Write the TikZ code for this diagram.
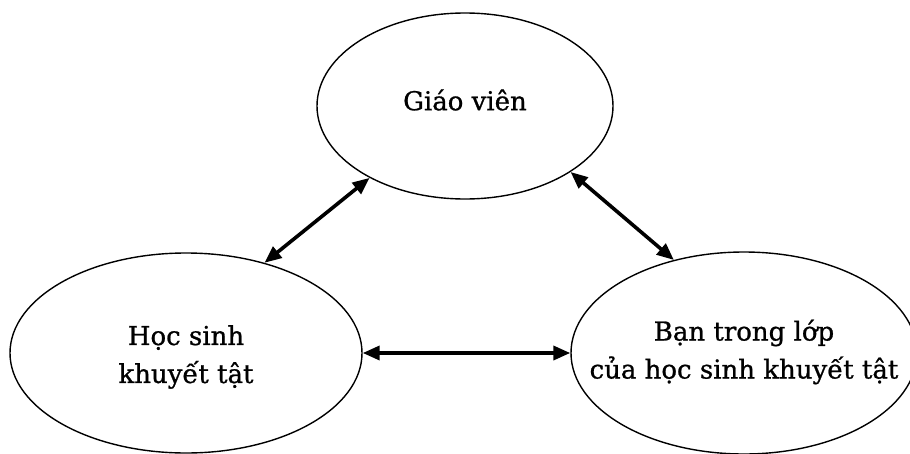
\documentclass[tikz,border=0pt]{standalone}
\usepackage{fontspec}
\setmainfont{DejaVu Serif}
\newfontfamily\chufont{DejaVu Serif}[FakeBold=0.9]
\usepackage{tikz}
\usetikzlibrary{positioning}
\usetikzlibrary{arrows.meta,shapes.geometric}

\begin{document}
\begin{tikzpicture}[x=1pt,y=-1pt,<->,>={Triangle[length=17pt,width=14pt]},node distance=247pt and 279pt,on grid,
    vong/.style={ellipse,draw,line width=1.4pt,inner sep=0pt},
    chu/.style={align=center,font=\chufont\fontsize{26pt}{38pt}\selectfont}]
      \useasboundingbox (0,0) rectangle (910,453);
      \clip (0,0) rectangle (910,453);
      \node[vong,minimum width=296pt,minimum height=186pt] (gv) at (465,106) {};
      \node[vong,minimum width=352pt,minimum height=200pt] (hs) [below left=of gv] {};
      \node[vong,minimum width=346pt,minimum height=202pt] (ban) [below right=of gv] {};
      \node[chu] (gvchu) at ([yshift=6pt]gv) {Giáo viên};
      \node[chu] (hschu) at ([yshift=-4pt]hs) {Học sinh\\khuyết tật};
      \node[chu] (banchu) at ([yshift=1pt]ban) {Bạn trong lớp\\của học sinh khuyết tật};
      \path[line width=3.6pt] (hs.49) edge (gv.217)
      (gv.328) edge (ban.127)
      (hs.0) edge (ban.180);
    \end{tikzpicture}
\end{document}
